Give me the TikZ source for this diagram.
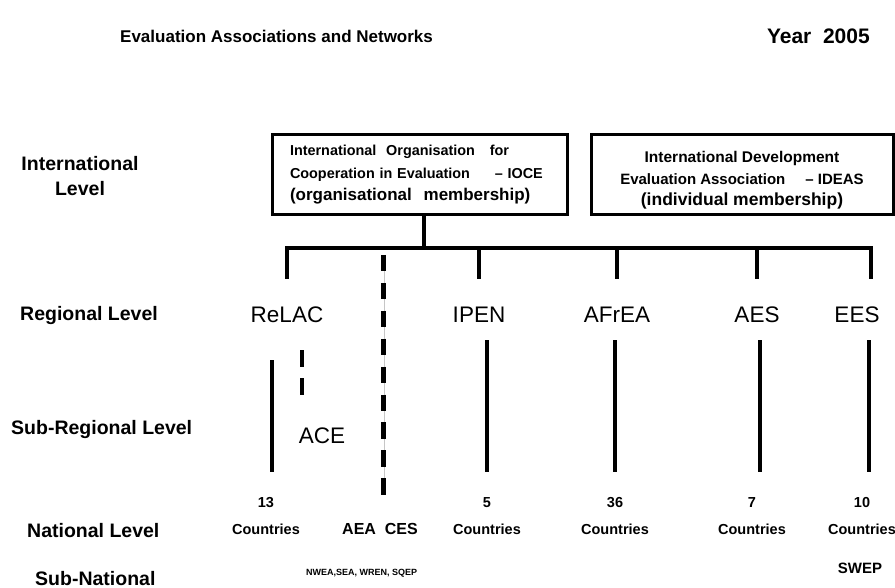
\documentclass[tikz,border=0pt]{standalone}
\usepackage{fontspec}
\setmainfont{Liberation Sans}
\usepackage{tikz}
\usetikzlibrary{positioning}

\tikzset{
	heading/.style={font=\bfseries\fontsize{17}{20}\selectfont, anchor=base west, inner sep=0pt},
	levelname/.style={font=\bfseries\fontsize{19.5}{25}\selectfont, anchor=base west, inner sep=0pt},
	orgbox/.style={draw, line width=3pt, minimum height=80pt, inner sep=0pt},
	region/.style={font=\fontsize{22.5}{26}\selectfont, anchor=base, inner sep=0pt},
	tally/.style={font=\bfseries\fontsize{14.5}{17}\selectfont, anchor=base, inner sep=0pt},
	member/.style={line width=4pt, line cap=rect},
	branch/.style={line width=4pt, shorten >=28.5pt},
	drop/.style={line width=3.5pt, shorten <=17pt, shorten >=24.6pt},
	dashlink/.style={line width=4.5pt, dash pattern=on 16.5pt off 11.4pt},
	trace/.style={gray!45, line width=1pt}
}

\begin{document}
\begin{tikzpicture}[x=1pt, y=-1pt]
	\useasboundingbox (0,0) rectangle (895,588);

	\node[heading] (title) at (120,43) {Evaluation Associations and Networks};
	\node[heading, anchor=base east, font=\bfseries\fontsize{21}{24}\selectfont] (year) at (870,44) {Year\ \ 2005};

	% levels down the left side
	\node[levelname, anchor=center, align=center] (intl) at (80,176) {International\\Level};
	\node[levelname] (reg) at (20,321) {Regional Level};
	\node[levelname] (subreg) at (11,434) {Sub-Regional Level};
	\node[levelname] (nat) at (27,537) {National Level};
	\node[levelname] (subnat) at (35,585) {Sub-National};

	% international bodies
	\node[orgbox, minimum width=295pt, text width=259pt, align=left, font=\bfseries\fontsize{14.4}{22.5}\selectfont] (ioce) at (419.5,175) {International\hspace{5pt} Organisation\hspace{10pt} for\\
		Cooperation in Evaluation\hspace{20pt} \textendash{} IOCE\\
		\fontsize{17}{22.5}\selectfont(organisational\hspace{7pt} membership)};
	\node[orgbox, minimum width=302pt, align=center, font=\bfseries\fontsize{15}{21.5}\selectfont] (ideas) at (742,175) {\rule{0pt}{22.6pt}{\fontsize{15.5}{21.5}\selectfont International Development}\\
		Evaluation Association\hspace{20pt}\textendash{} IDEAS\\
		{\fontsize{17.5}{21.5}\selectfont(individual membership)}};

	% regional associations
	\coordinate (bar) at (424,248);
	\node[region] (relac) at (287,323) {ReLAC};
	\node[region] (ipen) at (479,323) {IPEN};
	\node[region] (afrea) at (617,323) {AFrEA};
	\node[region] (aes) at (757,323) {AES};
	\node[region] (ees) at (857,323) {EES};
	\node[region] (ace) at (322,443) {ACE};

	% national counts
	\node[tally] (n13) at (266,507) {13};
	\node[tally] (n5) at (487,507) {5};
	\node[tally] (n36) at (615,507) {36};
	\node[tally] (n7) at (752,507) {7};
	\node[tally] (n10) at (862,507) {10};
	\node[tally, below=16.4pt of n13] (c13) {Countries};
	\node[tally, below=16.4pt of n5] (c5) {Countries};
	\node[tally, below=16.4pt of n36] (c36) {Countries};
	\node[tally, below=16.4pt of n7] (c7) {Countries};
	\node[tally, below=16.4pt of n10] (c10) {Countries};
	\node[tally, font=\bfseries\fontsize{16}{18}\selectfont] (aeaces) at (380,534) {AEA\ \ CES};

	% sub-national
	\node[tally, anchor=base west, font=\bfseries\fontsize{9}{11}\selectfont] (subnatlist) at (306,575.5) {NWEA,SEA, WREN, SQEP};
	\node[tally, font=\bfseries\fontsize{15}{17}\selectfont] (swep) at (860,573) {SWEP};

	\draw[member] (ioce.south -| bar) -- (bar);
	\draw[member] (relac.north |- bar) -- ([xshift=14pt]ees.north |- bar);
	\draw[branch] (relac.north |- bar) -- (relac.north);
	\draw[branch] (ipen.north |- bar) -- (ipen.north);
	\draw[branch] (afrea.north |- bar) -- (afrea.north);
	\draw[branch] (aes.north |- bar) -- (aes.north);
	\draw[branch] ([xshift=14pt]ees.north |- bar) -- ([xshift=14pt]ees.north);

	\draw[drop, shorten <=37pt] ([xshift=6pt]n13.north |- relac.south) -- ([xshift=6pt]n13.north);
	\draw[drop] (ipen.south -| n5) -- (n5.north);
	\draw[drop] (afrea.south -| n36) -- (n36.north);
	\draw[drop] ([xshift=8pt]n7.north |- aes.south) -- ([xshift=8pt]n7.north);
	\draw[drop] ([xshift=7pt]n10.north |- ees.south) -- ([xshift=7pt]n10.north);

	\draw[trace, shorten <=7pt, shorten >=27.5pt] ([xshift=4pt]aeaces.north |- bar) -- ([xshift=4pt]aeaces.north);
	\draw[dashlink, shorten <=7pt, shorten >=27.5pt] ([xshift=3.5pt]aeaces.north |- bar) -- ([xshift=3.5pt]aeaces.north);
	\draw[dashlink, shorten <=27pt, shorten >=31.5pt] ([xshift=-20pt]ace.north |- relac.south) -- ([xshift=-20pt]ace.north);
\end{tikzpicture}
\end{document}
